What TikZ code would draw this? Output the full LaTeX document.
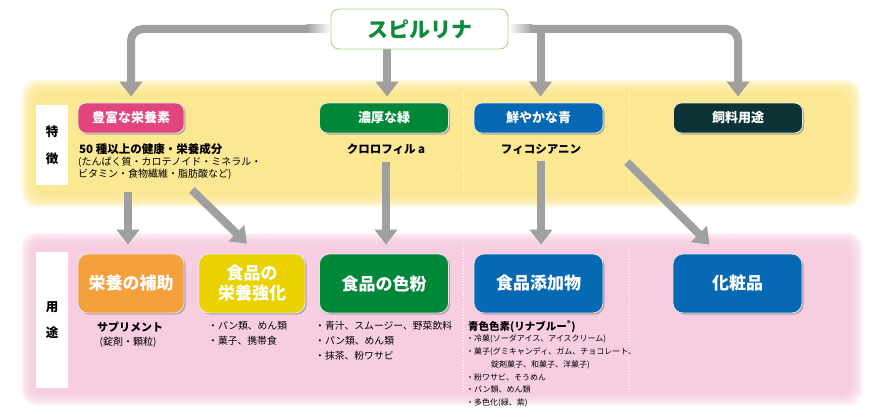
\documentclass[tikz,border=0pt]{standalone}
\usepackage{fontspec}
\setmainfont{Noto Sans CJK JP}
\usetikzlibrary{arrows.meta,shadows,calc}
\definecolor{pinkbox}{HTML}{E2457E}
\definecolor{greenbox}{HTML}{00873A}
\definecolor{bluebox}{HTML}{0768B3}
\definecolor{darkbox}{HTML}{0B3335}
\definecolor{orangebox}{HTML}{F4A03C}
\definecolor{yellowbox}{HTML}{E9D200}
\definecolor{bandY}{HTML}{FCE892}
\definecolor{bandP}{HTML}{F6CDE1}
\definecolor{lineGray}{HTML}{A0A0A0}
\definecolor{titleGreen}{HTML}{0B8B3B}
\definecolor{titleBorder}{HTML}{A8D878}
\pgfdeclarelayer{bg}
\pgfdeclarelayer{conn}
\pgfsetlayers{bg,conn,main}
\begin{document}
\begin{tikzpicture}[x=1pt,y=-1pt,
  conn/.style={draw=lineGray, line width=8pt, -{Triangle[width=22pt,length=15pt]}},
  boxbase/.style={draw=white!80!gray, line width=0.8pt, text=white, inner sep=0pt,
    drop shadow={shadow xshift=1.6pt, shadow yshift=-1.6pt, opacity=0.55}},
  fbox/.style={boxbase, rounded corners=8pt, minimum width=129pt, minimum height=30pt,
    font=\bfseries\fontsize{13}{15}\selectfont},
  ubox/.style={boxbase, rounded corners=10pt, minimum width=129pt, minimum height=59pt,
    font=\bfseries\fontsize{17}{20}\selectfont, align=center},
  side/.style={fill=white, minimum width=32pt, inner sep=0pt, align=center},
  body/.style={inner sep=0pt, align=left, text=black},
  sep/.style={draw=white, dotted, line width=0.8pt}
]
\useasboundingbox (0,0) rectangle (878,420);

% ---- bands ----
\begin{pgfonlayer}{bg}
\fill[white] (0,0) rectangle (878,420);
\foreach \i in {0,...,5}{
  \fill[bandY, opacity=0.3, rounded corners=14pt] (22+2*\i,80+2*\i) rectangle (860-2*\i,207-2*\i);
  \fill[bandP, opacity=0.3, rounded corners=14pt] (22+2*\i,233+2*\i) rectangle (862-2*\i,405-2*\i);
}
\fill[bandY, rounded corners=8pt] (34,92) rectangle (848,195);
\fill[bandP, rounded corners=8pt] (34,245) rectangle (850,393);
\draw[sep] (463,92) -- (463,195);
\draw[sep] (629,92) -- (629,195);
\draw[sep] (463,245) -- (463,393);
\draw[sep] (629,245) -- (629,393);
\end{pgfonlayer}

% ---- side labels ----
\node[side, minimum height=80pt, font=\bfseries\fontsize{12.5}{27}\selectfont] (s1) at (52,145) {特\\徴};
\node[side, minimum height=136pt, font=\bfseries\fontsize{12.5}{26}\selectfont] (s2) at (52,320) {用\\途};

% ---- title ----
\node[draw=titleBorder, line width=0.9pt, fill=white, rounded corners=8pt,
      minimum width=177pt, minimum height=40pt, text=titleGreen,
      font=\bfseries\fontsize{21}{24}\selectfont] (title) at (419.5,29) {スピルリナ};

% ---- feature boxes ----
\node[fbox, fill=pinkbox, minimum width=106pt] (f1) at (131,118) {豊富な栄養素};
\node[fbox, fill=greenbox] (f2) at (384,118) {濃厚な緑};
\node[fbox, fill=bluebox] (f3) at (538.5,118) {鮮やかな青};
\node[fbox, fill=darkbox] (f4) at (738,118) {飼料用途};

\node[body, anchor=west, font=\bfseries\fontsize{11.5}{13}\selectfont] (t1a) at (79,149) {50 種以上の健康・栄養成分};
\node[body, anchor=north west, font=\fontsize{10}{12}\selectfont] (t1b) at (78,156.5) {(たんぱく質・カロテノイド・ミネラル・\\ビタミン・食物繊維・脂肪酸など)};
\node[body, font=\bfseries\fontsize{11.5}{13}\selectfont] (t2) at (386,149) {クロロフィル a};
\node[body, font=\bfseries\fontsize{11.5}{13}\selectfont] (t3) at (541,149) {フィコシアニン};

% ---- use boxes ----
\node[ubox, fill=orangebox, minimum width=106pt] (u1) at (131,283.5) {栄養の補助};
\node[ubox, fill=yellowbox, minimum width=106pt] (u2) at (252,283.5) {食品の\\栄養強化};
\node[ubox, fill=greenbox] (u3) at (384,283.5) {食品の色粉};
\node[ubox, fill=bluebox] (u4) at (538.5,283.5) {食品添加物};
\node[ubox, fill=bluebox] (u5) at (737.5,283.5) {化粧品};

\node[body, font=\bfseries\fontsize{11}{13}\selectfont] (l1a) at (130,327) {サプリメント};
\node[body, font=\fontsize{10}{12}\selectfont] (l1b) at (128,342) {(錠剤・顆粒)};
\node[body, anchor=north west, font=\fontsize{9.8}{15}\selectfont] (l2) at (208,321.5) {・パン類、めん類\\・菓子、携帯食};
\node[body, anchor=north west, font=\fontsize{9.8}{15}\selectfont] (l3) at (315,321.5) {・青汁、スムージー、野菜飲料\\・パン類、めん類\\・抹茶、粉ワサビ};
\node[body, anchor=west, font=\bfseries\fontsize{10.5}{12}\selectfont] (l4a) at (468,327) {青色色素(リナブルー\textsuperscript{®})};
\node[body, anchor=north west, font=\fontsize{8}{12.7}\selectfont] (l4b) at (466,335) {・冷菓(ソーダアイス、アイスクリーム)\\・菓子(グミキャンディ、ガム、チョコレート、\\\hspace*{25pt}錠剤菓子、和菓子、洋菓子)\\・粉ワサビ、そうめん\\・パン類、めん類\\・多色化(緑、紫)};

% ---- connectors ----
\begin{pgfonlayer}{conn}
\draw[conn, rounded corners=12pt, shorten >=6pt] (title.west) -| (f1.north);
\draw[conn, rounded corners=12pt, shorten >=6pt] (title.east) -| (f4.north);
\draw[conn, shorten >=6pt] ([xshift=3pt]f2.north |- title.south) -- ([xshift=3pt]f2.north);
\draw[conn, shorten >=6pt] ([xshift=2pt]f3.north |- title.east) -- ([xshift=2pt]f3.north);
\shade[left color=lineGray, right color=white] ([xshift=-24pt,yshift=-4pt]title.west) rectangle ([yshift=4pt]title.west);
\shade[left color=white, right color=lineGray] ([yshift=-4pt]title.east) rectangle ([xshift=24pt,yshift=4pt]title.east);

\draw[conn, shorten >=9pt] ([xshift=-3pt,yshift=62pt]u1.north) -- ([xshift=-3pt]u1.north);
\coordinate (d1s) at (192,190);
\coordinate (d1e) at ([shift={(-5pt,10pt)}]u2.north);
\draw[conn] (d1s) -- (d1e);
\draw[conn, shorten >=9pt] ([yshift=-7pt]t2.south) -- (t2.south |- u3.north);
\draw[conn, shorten >=9pt] ([yshift=-7pt]t3.south) -- (t3.south |- u4.north);
\coordinate (d2s) at (627,162);
\coordinate (d2e) at ([shift={(-28pt,9pt)}]u5.north);
\draw[conn] (d2s) -- (d2e);
\end{pgfonlayer}
\end{tikzpicture}
\end{document}
